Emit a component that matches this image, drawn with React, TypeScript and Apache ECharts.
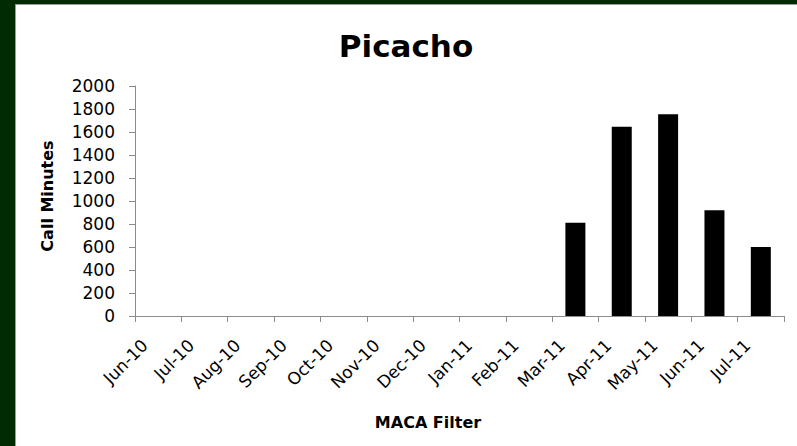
import React, { useEffect, useRef } from "react";
import * as echarts from "echarts";

const categories = [
  "Jun-10", "Jul-10", "Aug-10", "Sep-10", "Oct-10", "Nov-10", "Dec-10",
  "Jan-11", "Feb-11", "Mar-11", "Apr-11", "May-11", "Jun-11", "Jul-11",
];
const callMinutes = [0, 0, 0, 0, 0, 0, 0, 0, 0, 810, 1645, 1755, 920, 600];
const chartTitle = "Picacho";
const yAxisTitle = "Call Minutes";
const xAxisTitle = "MACA Filter";

const FONT = "'DejaVu Sans', sans-serif";

export default function App() {
  const ref = useRef<HTMLDivElement>(null);
  useEffect(() => {
    document.body.style.margin = "0";
    const chart = echarts.init(ref.current!, null, { renderer: "svg" });
    chart.setOption({
      animation: false,
      backgroundColor: "#012b03",
      grid: { left: 135, right: 13, top: 86, bottom: 130 },
      graphic: [
        {
          type: "rect",
          z: -100,
          shape: { x: 15.5, y: 4.5, width: 790, height: 450 },
          style: { fill: "#ffffff", stroke: "#9a9a9a", lineWidth: 1 },
        },
        {
          type: "text",
          x: 406,
          y: 45.5,
          style: {
            text: chartTitle,
            fontFamily: FONT,
            fontWeight: "bold",
            fontSize: 31,
            fill: "#000",
            align: "center",
            verticalAlign: "middle",
          },
        },
        {
          type: "text",
          x: 47.5,
          y: 196,
          rotation: Math.PI / 2,
          style: {
            text: yAxisTitle,
            fontFamily: FONT,
            fontWeight: "bold",
            fontSize: 16,
            fill: "#000",
            align: "center",
            verticalAlign: "middle",
          },
        },
        {
          type: "text",
          x: 428,
          y: 422.5,
          style: {
            text: xAxisTitle,
            fontFamily: FONT,
            fontWeight: "bold",
            fontSize: 16,
            fill: "#000",
            align: "center",
            verticalAlign: "middle",
          },
        },
      ],
      xAxis: {
        type: "category",
        data: categories,
        boundaryGap: true,
        axisLine: { show: true, lineStyle: { color: "#8c8c8c", width: 1 } },
        axisTick: { show: true, length: 6, lineStyle: { color: "#8c8c8c" } },
        axisLabel: {
          interval: 0,
          rotate: 45,
          margin: 13,
          padding: [0, 19, 0, 0],
          fontFamily: FONT,
          fontSize: 17,
          color: "#000",
        },
        splitLine: { show: false },
      },
      yAxis: {
        type: "value",
        min: 0,
        max: 2000,
        interval: 200,
        axisLine: { show: true, lineStyle: { color: "#8c8c8c", width: 1 } },
        axisTick: { show: true, length: 6, lineStyle: { color: "#8c8c8c" } },
        axisLabel: {
          margin: 20,
          fontFamily: FONT,
          fontSize: 17,
          color: "#000",
          formatter: (v: number) => String(v),
        },
        splitLine: { show: false },
      },
      series: [
        {
          type: "bar",
          data: callMinutes,
          barWidth: 20,
          itemStyle: { color: "#000" },
        },
      ],
    });
    return () => chart.dispose();
  }, []);
  return (
    <div
      ref={ref}
      style={{ position: "fixed", left: 0, top: 0, width: 797, height: 446 }}
    />
  );
}
